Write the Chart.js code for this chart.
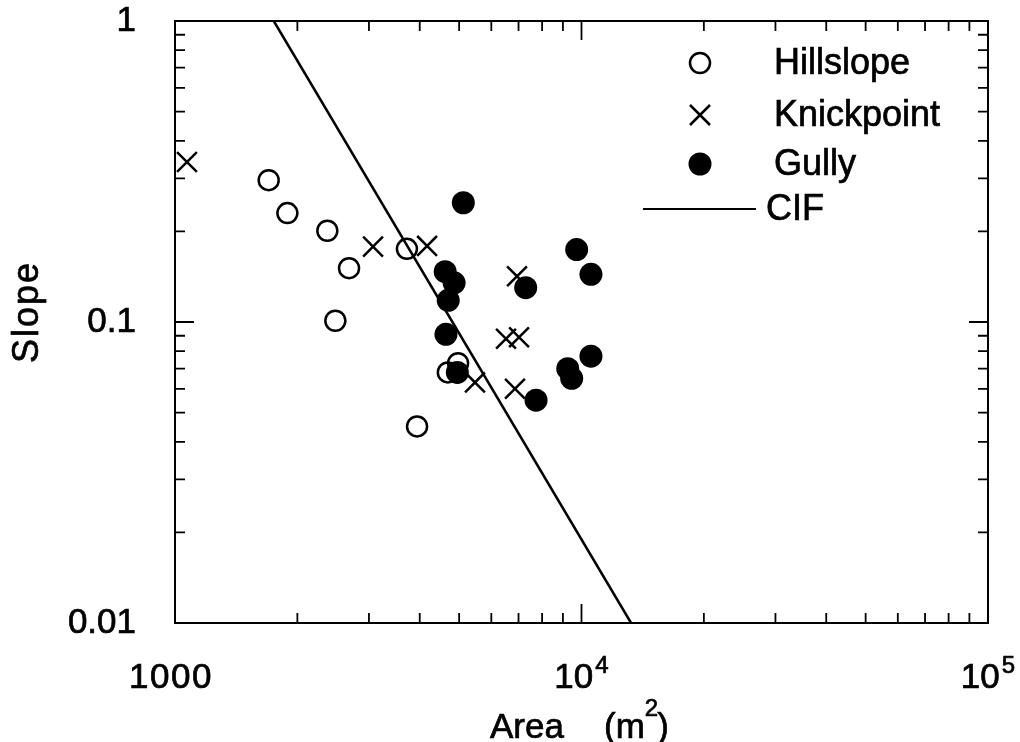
<!DOCTYPE html>
<html>
<head>
<meta charset="utf-8">
<title>Slope vs Area</title>
<script src="https://cdn.jsdelivr.net/npm/chart.js@4/dist/chart.umd.min.js"></script>
<style>
  html, body { margin: 0; padding: 0; background: #fff; }
  #wrap { width: 1020px; height: 742px; }
</style>
</head>
<body>
<div id="wrap"><canvas id="chart" width="1020" height="742"></canvas></div>
<script>
// Slope-area scatter (log-log) with a critical initiation line (CIF).
// Values.

// --- Data ---
const hillslopeArea  = [1700, 1890, 2370, 2680, 2480, 3720, 4970, 4690, 3940];
const hillslopeSlope = [0.296, 0.230, 0.201, 0.151, 0.101, 0.175, 0.073, 0.068, 0.045];

const knickArea  = [1070, 3070, 4170, 6940, 6520, 7020, 5470, 6860];
const knickSlope = [0.340, 0.178, 0.179, 0.142, 0.088, 0.089, 0.063, 0.060];

const gullyArea  = [5120, 4620, 4860, 4700, 4640, 4950, 7290, 7730, 9730, 10550, 10550, 9250, 9460];
const gullySlope = [0.249, 0.147, 0.135, 0.118, 0.091, 0.068, 0.130, 0.055, 0.174, 0.144, 0.077, 0.070, 0.065];

const cifArea  = [1750, 13240];
const cifSlope = [1, 0.01];

const xDecades = [1000, 10000, 100000];
const yDecades = [0.01, 0.1, 1];
const xTickLabels = [['1000', ''], ['10', '4'], ['10', '5']];
const yTickLabels = ['0.01', '0.1', '1'];

const legendLabels = ['Hillslope', 'Knickpoint', 'Gully', 'CIF'];

const FONT = '"Liberation Sans", Arial, Helvetica, sans-serif';
const MAIN = '35px ' + FONT;
const SUP = '24px ' + FONT;

function zip(xs, ys) {
  return xs.map((x, i) => ({ x: x, y: ys[i] }));
}

// fill + thin stroke, the scanned original has heavier glyphs
function text(ctx, s, x, y) {
  ctx.fillText(s, x, y);
  ctx.strokeText(s, x, y);
}

// --- Frame, inward ticks, labels and legend (drawn with the chart's scales) ---
const framePlugin = {
  id: 'frame',
  afterDraw(chart) {
    const ctx = chart.ctx;
    const a = chart.chartArea;
    const xs = chart.scales.x;
    const ys = chart.scales.y;
    const major = 19, minor = 10;

    ctx.save();
    ctx.strokeStyle = '#000';
    ctx.fillStyle = '#000';
    ctx.lineWidth = 2;
    ctx.strokeRect(a.left, a.top, a.right - a.left, a.bottom - a.top);

    ctx.lineWidth = 1.8;
    ctx.beginPath();
    // x ticks, bottom and top
    xDecades.forEach((d) => {
      for (let m = 1; m <= 9; m++) {
        const v = d * m;
        if (v > xDecades[xDecades.length - 1]) break;
        const px = xs.getPixelForValue(v);
        const len = m === 1 ? major : minor;
        ctx.moveTo(px, a.bottom); ctx.lineTo(px, a.bottom - len);
        ctx.moveTo(px, a.top); ctx.lineTo(px, a.top + len);
      }
    });
    // y ticks, left and right
    yDecades.forEach((d) => {
      for (let m = 1; m <= 9; m++) {
        const v = d * m;
        if (v > yDecades[yDecades.length - 1]) break;
        const py = ys.getPixelForValue(v);
        const len = m === 1 ? major : minor;
        ctx.moveTo(a.left, py); ctx.lineTo(a.left + len, py);
        ctx.moveTo(a.right, py); ctx.lineTo(a.right - len, py);
      }
    });
    ctx.stroke();

    ctx.lineWidth = 0.7;

    // y tick labels
    ctx.font = MAIN;
    ctx.textAlign = 'right';
    ctx.textBaseline = 'middle';
    yDecades.forEach((d, i) => {
      text(ctx, yTickLabels[i], 136, ys.getPixelForValue(d));
    });

    // x tick labels (base + superscript)
    ctx.textAlign = 'left';
    ctx.textBaseline = 'alphabetic';
    xDecades.forEach((d, i) => {
      const [base, exp] = xTickLabels[i];
      ctx.font = MAIN;
      ctx.letterSpacing = exp ? '0px' : '1.5px';
      const wb = ctx.measureText(base).width;
      ctx.font = SUP;
      const we = exp ? ctx.measureText(exp).width + 2 : 0;
      const start = xs.getPixelForValue(d) - (wb + we) / 2 - (exp ? 0 : 4);
      ctx.font = MAIN;
      text(ctx, base, start, 688);
      ctx.letterSpacing = '0px';
      if (exp) {
        ctx.font = SUP;
        text(ctx, exp, start + wb + 2, 673);
      }
    });

    // x axis title: Area  (m²)
    ctx.font = MAIN;
    text(ctx, 'Area', 490, 738);
    const p0 = 604;
    text(ctx, '(m', p0, 738);
    const wpm = ctx.measureText('(m').width;
    ctx.font = SUP;
    text(ctx, '2', p0 + wpm, 716);
    const w2 = ctx.measureText('2').width;
    ctx.font = MAIN;
    text(ctx, ')', p0 + wpm + w2 - 1, 738);

    // y axis title
    ctx.save();
    ctx.font = '36px ' + FONT;
    ctx.letterSpacing = '2px';
    ctx.translate(28, 313);
    ctx.rotate(-Math.PI / 2);
    ctx.textAlign = 'center';
    ctx.textBaseline = 'middle';
    text(ctx, 'Slope', 1, 0);
    ctx.restore();

    // legend
    const mx = 700, lx = 774;
    const rows = [63, 115, 164, 209];
    ctx.lineWidth = 2.5;

    ctx.beginPath();
    ctx.arc(mx, rows[0], 10, 0, Math.PI * 2);
    ctx.stroke();

    ctx.beginPath();
    ctx.moveTo(mx - 10, rows[1] - 10); ctx.lineTo(mx + 10, rows[1] + 10);
    ctx.moveTo(mx - 10, rows[1] + 10); ctx.lineTo(mx + 10, rows[1] - 10);
    ctx.stroke();

    ctx.beginPath();
    ctx.arc(mx, rows[2], 11.5, 0, Math.PI * 2);
    ctx.fill();

    ctx.lineWidth = 2;
    ctx.beginPath();
    ctx.moveTo(643, rows[3]); ctx.lineTo(756, rows[3]);
    ctx.stroke();

    ctx.font = '36px ' + FONT;
    ctx.textAlign = 'left';
    ctx.textBaseline = 'middle';
    ctx.lineWidth = 0.7;
    legendLabels.forEach((lab, i) => {
      text(ctx, lab, i === 3 ? 766 : lx, rows[i] + 1);
    });

    ctx.restore();
  },
};

// --- Chart ---
new Chart(document.getElementById('chart'), {
  type: 'scatter',
  data: {
    datasets: [
      {
        label: 'Gully',
        data: zip(gullyArea, gullySlope),
        pointStyle: 'circle',
        pointRadius: 11.5,
        backgroundColor: '#000',
        borderColor: '#000',
        borderWidth: 0,
        clip: false,
      },
      {
        label: 'Knickpoint',
        data: zip(knickArea, knickSlope),
        pointStyle: 'crossRot',
        pointRadius: 14,
        borderColor: '#000',
        borderWidth: 2.5,
        clip: false,
      },
      {
        label: 'Hillslope',
        data: zip(hillslopeArea, hillslopeSlope),
        pointStyle: 'circle',
        pointRadius: 10,
        backgroundColor: 'rgba(0,0,0,0)',
        borderColor: '#000',
        borderWidth: 2.5,
        clip: false,
      },
      {
        label: 'CIF',
        type: 'line',
        data: zip(cifArea, cifSlope),
        showLine: true,
        pointRadius: 0,
        borderColor: '#000',
        borderWidth: 2.5,
        fill: false,
      },
    ],
  },
  options: {
    responsive: false,
    animation: false,
    devicePixelRatio: 1,
    layout: { padding: { left: 175, top: 21, right: 32, bottom: 119 } },
    plugins: {
      legend: { display: false },
      tooltip: { enabled: false },
    },
    scales: {
      x: { type: 'logarithmic', min: 1000, max: 100000, display: false },
      y: { type: 'logarithmic', min: 0.01, max: 1, display: false },
    },
    elements: { point: { hoverRadius: 0 } },
  },
  plugins: [framePlugin],
});
</script>
</body>
</html>
